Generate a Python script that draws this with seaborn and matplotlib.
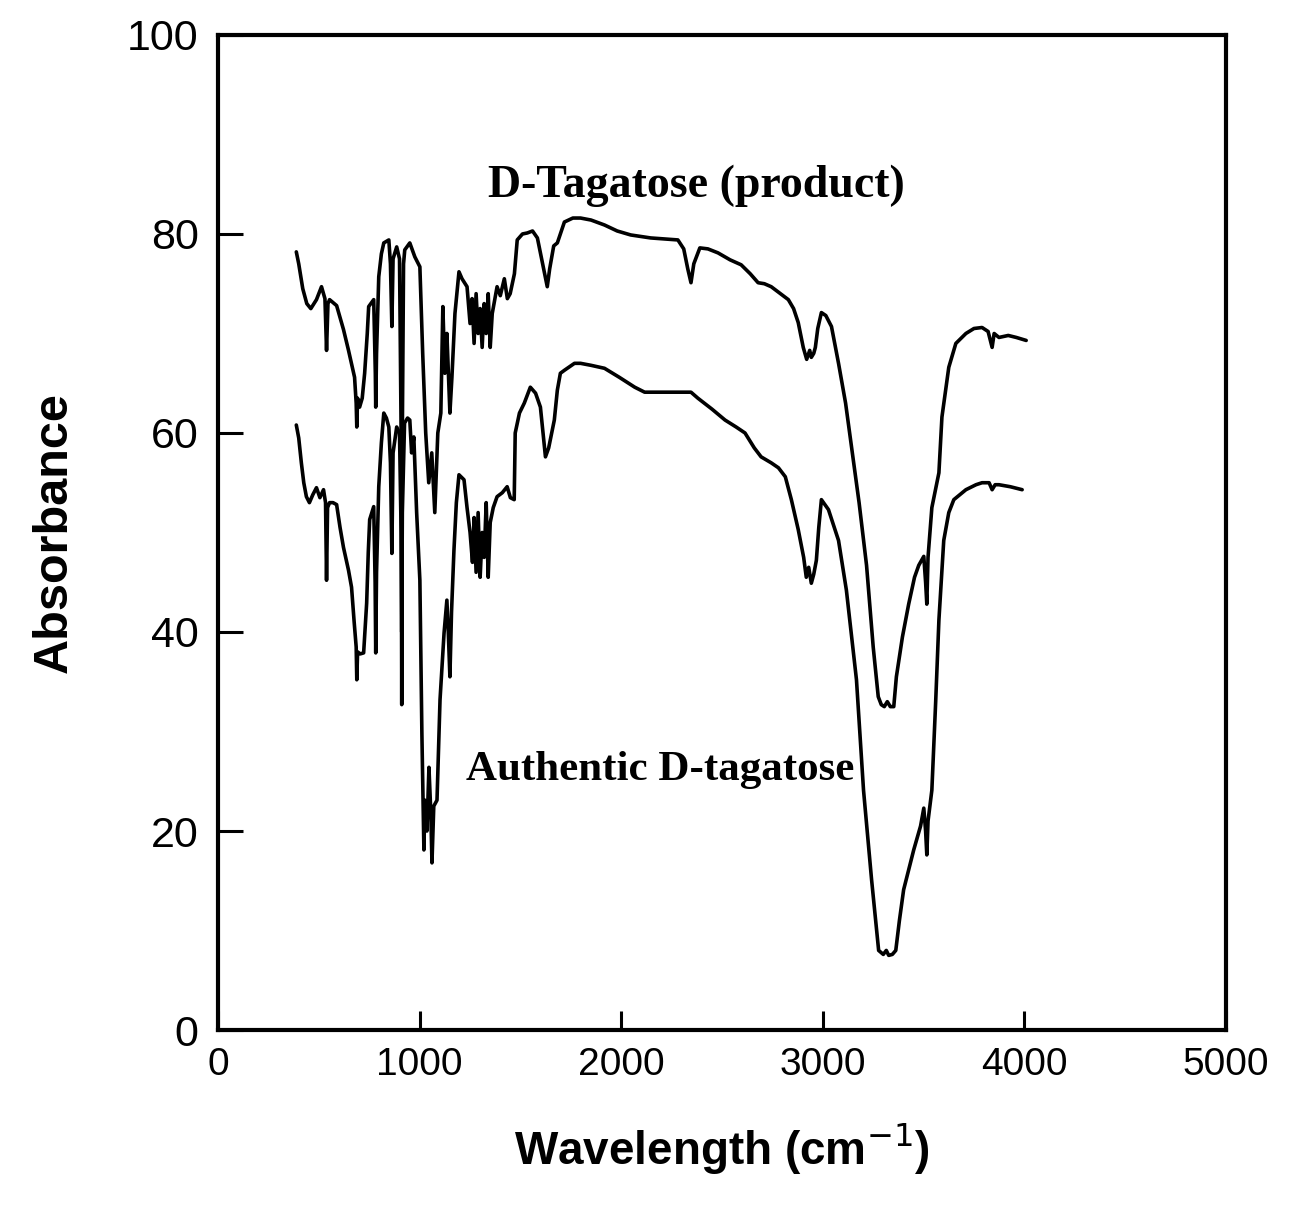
import numpy as np
import pandas as pd
import matplotlib
matplotlib.use("Agg")
import matplotlib.pyplot as plt
import seaborn as sns

# D-Tagatose (product) spectrum
prod_x = [388, 400, 420, 440, 460, 488, 513, 530, 538, 545, 553, 588, 622, 647, 667, 677, 685, 688, 692, 702,
          715, 727, 740, 747, 772, 780, 782, 786, 797, 810, 822, 847, 855, 862, 868, 886, 900, 908, 911, 914,
          920, 926, 951, 976, 1001, 1015, 1030, 1045, 1060, 1075, 1090, 1105, 1115, 1125, 1135, 1150, 1160, 1175, 1195, 1210,
          1235, 1250, 1260, 1270, 1280, 1290, 1300, 1310, 1320, 1330, 1340, 1350, 1360, 1384, 1400, 1420, 1435, 1449, 1470, 1484,
          1510, 1534, 1560, 1584, 1600, 1620, 1633, 1645, 1665, 1683, 1718, 1760, 1798, 1850, 1917, 1980, 2047, 2146, 2281, 2310,
          2330, 2346, 2360, 2390, 2430, 2480, 2540, 2595, 2640, 2679, 2710, 2744, 2790, 2829, 2855, 2878, 2903, 2920, 2935, 2943,
          2955, 2963, 2975, 2993, 3015, 3043, 3078, 3113, 3143, 3180, 3217, 3250, 3275, 3290, 3305, 3320, 3335, 3352, 3365, 3395,
          3426, 3455, 3476, 3501, 3510, 3516, 3522, 3541, 3576, 3591, 3625, 3660, 3710, 3750, 3790, 3820, 3840, 3850, 3874, 3920,
          3960, 4009]
prod_y = [78.2, 77.0, 74.5, 73.0, 72.5, 73.4, 74.7, 73.5, 68.3, 73.0, 73.4, 72.8, 70.4, 68.3, 66.5, 65.6, 63.0, 60.6, 63.5, 62.6,
          63.5, 66.0, 70.0, 72.7, 73.4, 66.0, 62.6, 68.0, 75.7, 78.0, 79.1, 79.4, 77.0, 70.7, 77.5, 78.7, 77.5, 60.0, 32.7, 60.0,
          77.0, 78.4, 79.1, 77.7, 76.7, 68.0, 60.0, 55.0, 58.0, 52.0, 60.0, 62.0, 72.7, 66.0, 70.0, 62.0, 65.6, 72.0, 76.2, 75.5,
          74.7, 71.0, 73.5, 69.0, 74.0, 70.0, 72.5, 68.6, 73.0, 70.0, 74.0, 68.6, 72.0, 74.7, 73.8, 75.5, 73.5, 74.0, 76.0, 79.4,
          80.0, 80.1, 80.3, 79.6, 78.0, 76.0, 74.7, 76.5, 78.8, 79.1, 81.2, 81.6, 81.6, 81.4, 80.9, 80.3, 79.9, 79.6, 79.4, 78.5,
          76.5, 75.1, 77.0, 78.6, 78.5, 78.1, 77.4, 76.9, 76.0, 75.1, 75.0, 74.7, 74.0, 73.4, 72.5, 71.1, 68.6, 67.4, 68.3, 67.6,
          68.0, 68.6, 70.5, 72.1, 71.8, 70.7, 67.0, 63.0, 58.5, 53.0, 46.7, 38.5, 33.5, 32.7, 32.5, 33.0, 32.5, 32.5, 35.5, 39.5,
          42.8, 45.5, 46.7, 47.6, 45.0, 42.8, 47.5, 52.5, 56.0, 61.6, 66.6, 69.0, 70.0, 70.5, 70.6, 70.2, 68.6, 70.0, 69.6, 69.8,
          69.6, 69.3]

# Authentic D-tagatose spectrum
auth_x = [388, 400, 413, 425, 438, 453, 470, 488, 505, 523, 533, 538, 543, 553, 570, 588, 605, 622, 647, 662,
          675, 685, 688, 692, 705, 722, 737, 745, 752, 772, 779, 782, 786, 797, 810, 822, 835, 847, 855, 862,
          868, 886, 900, 908, 911, 914, 925, 940, 951, 960, 971, 985, 1001, 1011, 1021, 1026, 1036, 1046, 1055, 1061,
          1070, 1086, 1101, 1121, 1135, 1142, 1150, 1158, 1170, 1182, 1195, 1220, 1235, 1250, 1262, 1270, 1280, 1290, 1300, 1310,
          1320, 1330, 1340, 1350, 1365, 1384, 1410, 1434, 1450, 1469, 1474, 1495, 1519, 1549, 1575, 1599, 1612, 1624, 1640, 1668,
          1683, 1698, 1718, 1768, 1798, 1850, 1917, 1990, 2067, 2116, 2200, 2280, 2346, 2380, 2450, 2515, 2570, 2614, 2660, 2694,
          2744, 2780, 2814, 2844, 2878, 2905, 2918, 2930, 2943, 2955, 2968, 2980, 2993, 3028, 3078, 3117, 3167, 3202, 3242, 3277,
          3300, 3315, 3327, 3345, 3362, 3380, 3401, 3451, 3485, 3501, 3510, 3516, 3522, 3541, 3560, 3576, 3600, 3625, 3650, 3710,
          3760, 3790, 3825, 3840, 3855, 3874, 3930, 3989]
auth_y = [60.8, 59.5, 57.0, 55.0, 53.6, 53.0, 53.8, 54.5, 53.5, 54.3, 53.0, 45.2, 52.5, 53.0, 53.0, 52.8, 50.5, 48.5, 46.2, 44.5,
          41.0, 38.5, 35.2, 38.0, 37.8, 37.9, 42.9, 48.0, 51.3, 52.6, 45.0, 37.9, 46.0, 54.6, 59.0, 62.0, 61.5, 60.6, 57.0, 47.9,
          58.0, 60.6, 60.0, 50.0, 40.0, 52.0, 61.0, 61.5, 61.3, 58.0, 59.6, 52.0, 45.2, 29.8, 18.1, 23.1, 20.0, 26.4, 22.0, 16.8,
          22.5, 23.1, 33.2, 39.9, 43.2, 40.0, 35.5, 42.0, 48.2, 53.0, 55.8, 55.3, 52.5, 50.0, 47.0, 51.5, 46.0, 52.0, 45.5, 50.0,
          47.5, 53.0, 45.5, 51.0, 52.5, 53.6, 54.0, 54.6, 53.5, 53.3, 60.0, 62.0, 63.0, 64.6, 64.0, 62.6, 60.0, 57.6, 58.5, 61.3,
          64.3, 66.0, 66.3, 67.0, 67.0, 66.8, 66.5, 65.6, 64.6, 64.1, 64.1, 64.1, 64.1, 63.5, 62.4, 61.3, 60.6, 60.0, 58.5, 57.6,
          57.0, 56.5, 55.6, 53.3, 50.3, 47.5, 45.5, 46.5, 44.9, 45.8, 47.2, 50.5, 53.3, 52.3, 49.2, 44.2, 35.2, 24.1, 15.1, 8.0,
          7.6, 8.0, 7.5, 7.6, 8.0, 11.0, 14.1, 18.1, 20.5, 22.3, 20.0, 17.6, 21.0, 24.1, 33.0, 41.2, 49.2, 52.0, 53.3, 54.3,
          54.8, 55.0, 55.0, 54.3, 54.8, 54.8, 54.6, 54.3]

x_ticks = [0, 1000, 2000, 3000, 4000, 5000]
y_ticks = [0, 20, 40, 60, 80, 100]

sns.set_style("ticks")
plt.rcParams['font.family'] = ['Liberation Sans', 'DejaVu Sans']
plt.rcParams['text.color'] = 'black'
plt.rcParams['axes.labelcolor'] = 'black'
plt.rcParams['xtick.color'] = 'black'
plt.rcParams['ytick.color'] = 'black'

fig = plt.figure(figsize=(13.06, 12.05), dpi=100)
ax = fig.add_axes([0.167, 0.1452, 0.7717, 0.8258])

prod = pd.DataFrame({"wn": prod_x, "abs": prod_y})
auth = pd.DataFrame({"wn": auth_x, "abs": auth_y})
sns.lineplot(data=prod, x="wn", y="abs", sort=False, estimator=None, color="black", lw=2.6, ax=ax)
sns.lineplot(data=auth, x="wn", y="abs", sort=False, estimator=None, color="black", lw=2.6, ax=ax)

ax.set_xlim(0, 5000)
ax.set_ylim(0, 100)
ax.set_xticks(x_ticks)
ax.set_yticks(y_ticks)
ax.tick_params(axis="both", direction="in", width=2.2)
ax.tick_params(axis="y", length=18, pad=14, labelsize=31)
ax.tick_params(axis="x", length=14, pad=12, labelsize=28)
for s in ax.spines.values():
    s.set_linewidth(3)
    s.set_color("black")

ax.set_xlabel("Wavelength (cm$^{-1}$)", fontsize=33, fontweight="bold", labelpad=28)
ax.set_ylabel("Absorbance", fontsize=35, fontweight="bold", labelpad=36)

ax.text(2371, 84.8, "D-Tagatose (product)", ha="center", va="center",
        fontsize=33, fontweight="bold", family="Liberation Serif")
ax.text(2192, 26.1, "Authentic D-tagatose", ha="center", va="center",
        fontsize=31, fontweight="bold", family="Liberation Serif")

fig.savefig("out.png", dpi=100)
